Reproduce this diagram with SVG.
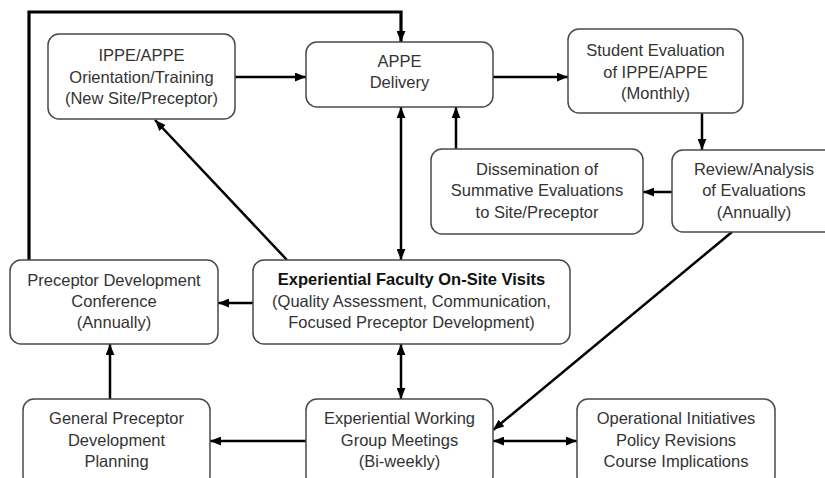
<svg xmlns="http://www.w3.org/2000/svg" width="825" height="478" viewBox="0 0 825 478">
<defs>
<style>
.box{fill:#fff;stroke:#4a4a4a;stroke-width:1.5}
.t{font-family:"Liberation Sans",Arial,sans-serif;font-size:16.5px;fill:#333;text-anchor:middle}
.b{font-weight:bold;fill:#111}
.c{fill:none;stroke:#000;stroke-width:2.5}
.thick{stroke-width:3.2}
</style>
<marker id="ah" viewBox="0 0 10 8" refX="10" refY="4" markerWidth="11" markerHeight="9" markerUnits="userSpaceOnUse" orient="auto-start-reverse">
<path d="M0,0 L10,4 L0,8 z" fill="#000"/>
</marker>
</defs>
<rect width="825" height="478" fill="#fff"/>
<g id="connectors">
<path class="c thick" d="M29,260 V12 H401 V42" marker-end="url(#ah)"/>
<path class="c" d="M235,77 H306" marker-end="url(#ah)"/>
<path class="c" d="M493,77 H568" marker-end="url(#ah)"/>
<path class="c" d="M702,113 V150" marker-end="url(#ah)"/>
<path class="c" d="M672,192 H643" marker-end="url(#ah)"/>
<path class="c" d="M456,149 V107" marker-end="url(#ah)"/>
<path class="c" d="M401,107 V260" marker-start="url(#ah)" marker-end="url(#ah)"/>
<path class="c" d="M287,260 L155,120" marker-end="url(#ah)"/>
<path class="c" d="M253,303 H218" marker-end="url(#ah)"/>
<path class="c" d="M401,344 V399" marker-start="url(#ah)" marker-end="url(#ah)"/>
<path class="c" d="M732,232 L493,430" marker-end="url(#ah)"/>
<path class="c" d="M493,441 H577" marker-start="url(#ah)" marker-end="url(#ah)"/>
<path class="c" d="M306,441 H210" marker-end="url(#ah)"/>
<path class="c" d="M110,399 V344" marker-end="url(#ah)"/>
</g>
<g id="orientation">
<rect class="box" x="48" y="34" width="187" height="85" rx="11"/>
<text class="t" x="141.5" y="61">IPPE/APPE</text>
<text class="t" x="141.5" y="82.5">Orientation/Training</text>
<text class="t" x="141.5" y="104">(New Site/Preceptor)</text>
</g>
<g id="delivery">
<rect class="box" x="306" y="42" width="187" height="65" rx="11"/>
<text class="t" x="399.5" y="67">APPE</text>
<text class="t" x="399.5" y="88">Delivery</text>
</g>
<g id="student-eval">
<rect class="box" x="568" y="29" width="175" height="84" rx="11"/>
<text class="t" x="655.5" y="56">Student Evaluation</text>
<text class="t" x="655.5" y="77.5">of IPPE/APPE</text>
<text class="t" x="655.5" y="99">(Monthly)</text>
</g>
<g id="dissemination">
<rect class="box" x="431" y="149" width="212" height="85" rx="11"/>
<text class="t" x="537" y="174.5">Dissemination of</text>
<text class="t" x="537" y="196">Summative Evaluations</text>
<text class="t" x="537" y="217.5">to Site/Preceptor</text>
</g>
<g id="review">
<rect class="box" x="672" y="150" width="166" height="82" rx="11"/>
<text class="t" x="754" y="174.5">Review/Analysis</text>
<text class="t" x="754" y="196">of Evaluations</text>
<text class="t" x="754" y="217.5">(Annually)</text>
</g>
<g id="preceptor-conference">
<rect class="box" x="10" y="260" width="208" height="84" rx="11"/>
<text class="t" x="114" y="286">Preceptor Development</text>
<text class="t" x="114" y="307">Conference</text>
<text class="t" x="114" y="328">(Annually)</text>
</g>
<g id="faculty-visits">
<rect class="box" x="253" y="260" width="317" height="84" rx="11"/>
<text class="t b" x="411.5" y="285">Experiential Faculty On-Site Visits</text>
<text class="t" x="411.5" y="306.5">(Quality Assessment, Communication,</text>
<text class="t" x="411.5" y="327.5">Focused Preceptor Development)</text>
</g>
<g id="general-planning">
<rect class="box" x="23" y="399" width="187" height="88" rx="11"/>
<text class="t" x="116.5" y="424">General Preceptor</text>
<text class="t" x="116.5" y="445.5">Development</text>
<text class="t" x="116.5" y="467">Planning</text>
</g>
<g id="working-group">
<rect class="box" x="306" y="399" width="187" height="88" rx="11"/>
<text class="t" x="399.5" y="424">Experiential Working</text>
<text class="t" x="399.5" y="445.5">Group Meetings</text>
<text class="t" x="399.5" y="467">(Bi-weekly)</text>
</g>
<g id="operational">
<rect class="box" x="577" y="399" width="198" height="88" rx="11"/>
<text class="t" x="676" y="424">Operational Initiatives</text>
<text class="t" x="676" y="445.5">Policy Revisions</text>
<text class="t" x="676" y="467">Course Implications</text>
</g>
</svg>
